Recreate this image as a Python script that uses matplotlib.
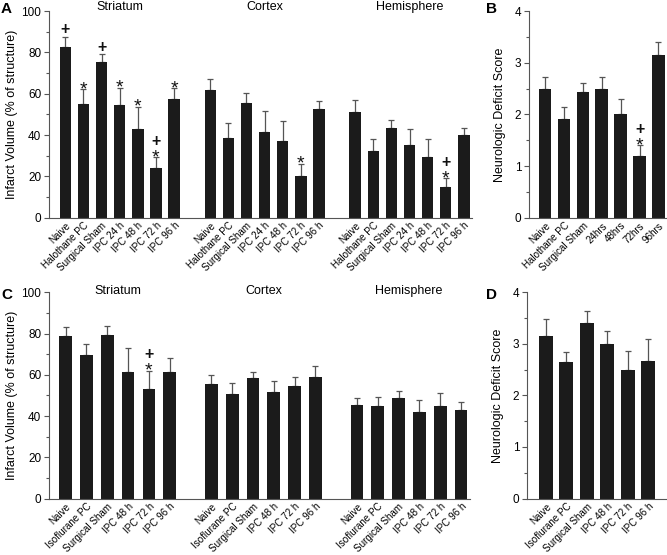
import matplotlib.pyplot as plt
import numpy as np
from matplotlib.ticker import MultipleLocator

plt.rcParams['font.family'] = ['Liberation Sans', 'DejaVu Sans']

BAR = '#1b1b1b'
GREY = '#555555'

# Panel A - halothane, infarct volume (% of structure)
a_labels = ['Naive', 'Halothane PC', 'Surgical Sham', 'IPC 24 h', 'IPC 48 h', 'IPC 72 h', 'IPC 96 h']
a_groups = ['Striatum', 'Cortex', 'Hemisphere']
a_striatum = [82.4, 55.0, 75.3, 54.7, 42.7, 23.9, 57.4]
a_striatum_err = [5.2, 7.1, 3.7, 8.2, 10.8, 5.3, 5.2]
a_striatum_sig = ['+', '*', '+', '*', '*', '*+', '*']
a_cortex = [61.8, 38.4, 55.3, 41.5, 36.9, 20.3, 52.4]
a_cortex_err = [5.1, 7.2, 4.9, 10.1, 9.7, 5.8, 4.2]
a_cortex_sig = ['', '', '', '', '', '*', '']
a_hemi = [51.0, 32.4, 43.5, 35.0, 29.5, 14.7, 39.8]
a_hemi_err = [5.8, 5.7, 3.9, 8.1, 8.4, 4.3, 3.4]
a_hemi_sig = ['', '', '', '', '', '*+', '']

# Panel B - halothane, neurologic deficit score
b_labels = ['Naive', 'Halothane PC', 'Surgical Sham', '24hrs', '48hrs', '72hrs', '96hrs']
b_vals = [2.50, 1.91, 2.44, 2.50, 2.00, 1.20, 3.15]
b_err = [0.22, 0.23, 0.17, 0.22, 0.30, 0.20, 0.25]
b_sig = ['', '', '', '', '', '*+', '']

# Panel C - isoflurane, infarct volume
c_labels = ['Naive', 'Isoflurane PC', 'Surgical Sham', 'IPC 48 h', 'IPC 72 h', 'IPC 96 h']
c_groups = ['Striatum', 'Cortex', 'Hemisphere']
c_striatum = [78.8, 69.7, 79.1, 61.2, 53.1, 61.5]
c_striatum_err = [4.2, 5.4, 4.4, 11.8, 8.9, 6.5]
c_striatum_sig = ['', '', '', '', '*+', '']
c_cortex = [55.5, 50.5, 58.4, 51.8, 54.5, 58.7]
c_cortex_err = [4.2, 5.6, 3.1, 5.3, 4.6, 5.7]
c_hemi = [45.3, 44.8, 48.7, 41.9, 45.1, 42.7]
c_hemi_err = [3.6, 4.6, 3.2, 5.8, 6.0, 4.2]

# Panel D - isoflurane, neurologic deficit score
d_labels = ['Naive', 'Isoflurane PC', 'Surgical Sham', 'IPC 48 h', 'IPC 72 h', 'IPC 96 h']
d_vals = [3.16, 2.64, 3.40, 2.99, 2.50, 2.66]
d_err = [0.32, 0.21, 0.23, 0.26, 0.37, 0.44]


def style(ax, top, major, minor):
    for s in ['top', 'right']:
        ax.spines[s].set_visible(False)
    for s in ['left', 'bottom']:
        ax.spines[s].set_color(GREY)
        ax.spines[s].set_linewidth(0.8)
    ax.set_ylim(0, top)
    ax.yaxis.set_major_locator(MultipleLocator(major))
    ax.yaxis.set_minor_locator(MultipleLocator(minor))
    ax.tick_params(axis='y', which='major', length=3.5, width=0.8, color=GREY, labelsize=8.5, pad=2)
    ax.tick_params(axis='y', which='minor', length=2.5, width=0.8, color=GREY)
    ax.tick_params(axis='x', length=0, labelsize=7.1, pad=2)


def marks(ax, x, cap, sig):
    # '*' sits just above the cap, '+' stacks above the star when both are given
    for xi, c, s in zip(x, cap, sig):
        if '*' in s:
            ax.annotate('*', (xi, c), xytext=(0, -3.4), textcoords='offset points',
                        ha='center', va='baseline', fontsize=14, color='#111111')
        if '+' in s:
            off = 8.3 if '*' in s else 1.8
            ax.annotate('+', (xi, c), xytext=(0, off), textcoords='offset points',
                        ha='center', va='baseline', fontsize=11.5, fontweight='bold', color='#111111')


def bars(ax, x, vals, err, width):
    ax.bar(x, vals, width=width, color=BAR, zorder=2)
    ax.errorbar(x, vals, yerr=[np.zeros(len(err)), err], fmt='none', ecolor=GREY,
                elinewidth=0.9, capsize=2.3, capthick=0.9, zorder=1)


fig = plt.figure(figsize=(6.67, 5.55), dpi=100)

# ---- A ----
ax = fig.add_axes([0.0735, 0.6077, 0.6342, 0.3724])
series = [(a_striatum, a_striatum_err, a_striatum_sig),
          (a_cortex, a_cortex_err, a_cortex_sig),
          (a_hemi, a_hemi_err, a_hemi_sig)]
ticks, names = [], []
for g, (v, e, sg) in enumerate(series):
    x = np.arange(len(v)) + g * (len(v) + 1)
    bars(ax, x, v, e, 0.63)
    marks(ax, x, np.add(v, e), sg)
    ax.text(x.mean(), 1.018, a_groups[g], transform=ax.get_xaxis_transform(),
            ha='center', va='center', fontsize=9)
    ticks += list(x)
    names += a_labels
ax.set_xticks(ticks)
ax.set_xticklabels(names, rotation=45, ha='right', rotation_mode='anchor')
ax.set_xlim(-0.9, ticks[-1] + 0.45)
style(ax, 100, 20, 10)
ax.set_ylabel('Infarct Volume (% of structure)', fontsize=9)
ax.yaxis.set_label_coords(-0.073, 0.5)

# ---- B ----
ax = fig.add_axes([0.7931, 0.6077, 0.2069, 0.3724])
x = np.arange(len(b_vals))
bars(ax, x, b_vals, b_err, 0.67)
marks(ax, x, np.add(b_vals, b_err), b_sig)
ax.set_xticks(x)
ax.set_xticklabels(b_labels, rotation=45, ha='right', rotation_mode='anchor')
ax.set_xlim(-0.85, x[-1] + 0.45)
style(ax, 4, 1, 0.5)
ax.set_ylabel('Neurologic Deficit Score', fontsize=9)
ax.yaxis.set_label_coords(-0.167, 0.5)

# ---- C ----
ax = fig.add_axes([0.0735, 0.1018, 0.6312, 0.3715])
series = [(c_striatum, c_striatum_err, c_striatum_sig),
          (c_cortex, c_cortex_err, [''] * len(c_cortex)),
          (c_hemi, c_hemi_err, [''] * len(c_hemi))]
ticks, names = [], []
for g, (v, e, sg) in enumerate(series):
    x = np.arange(len(v)) + g * (len(v) + 1)
    bars(ax, x, v, e, 0.61)
    marks(ax, x, np.add(v, e), sg)
    ax.text(x.mean(), 1.008, c_groups[g], transform=ax.get_xaxis_transform(),
            ha='center', va='center', fontsize=9)
    ticks += list(x)
    names += c_labels
ax.set_xticks(ticks)
ax.set_xticklabels(names, rotation=45, ha='right', rotation_mode='anchor')
ax.set_xlim(-0.8, ticks[-1] + 0.43)
style(ax, 100, 20, 10)
ax.set_ylabel('Infarct Volume (% of structure)', fontsize=9)
ax.yaxis.set_label_coords(-0.073, 0.5)

# ---- D ----
ax = fig.add_axes([0.7901, 0.1018, 0.2099, 0.3715])
x = np.arange(len(d_vals))
bars(ax, x, d_vals, d_err, 0.69)
ax.set_xticks(x)
ax.set_xticklabels(d_labels, rotation=45, ha='right', rotation_mode='anchor')
ax.set_xlim(-0.93, x[-1] + 0.93)
style(ax, 4, 1, 0.5)
ax.set_ylabel('Neurologic Deficit Score', fontsize=9)
ax.yaxis.set_label_coords(-0.167, 0.5)

# panel letters
for lab, px, py in [('A', 1, 2), ('B', 486, 2), ('C', 1, 288), ('D', 486, 288)]:
    fig.text(px / 667, 1 - py / 555, lab, ha='left', va='top', fontsize=11, fontweight='bold')

fig.savefig('out.png', dpi=100)
